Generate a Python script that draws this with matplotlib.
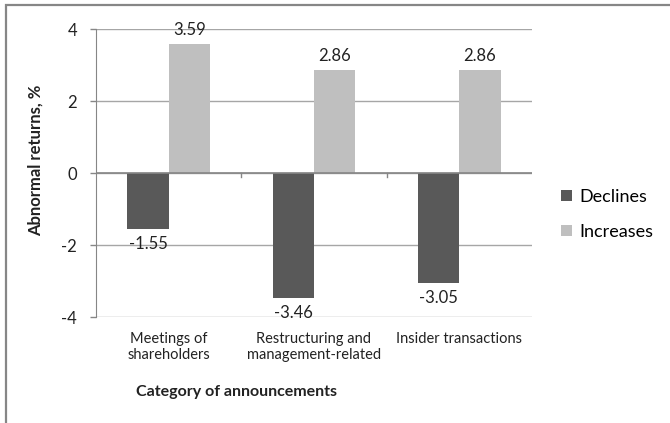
import numpy as np
import matplotlib
matplotlib.use('Agg')
import matplotlib.pyplot as plt
from matplotlib.patches import Rectangle

plt.rcParams['font.family'] = ['Lato', 'DejaVu Sans']

categories = ['Meetings of\nshareholders', 'Restructuring and\nmanagement-related', 'Insider transactions']
declines = [-1.55, -3.46, -3.05]
increases = [3.59, 2.86, 2.86]
series_names = ['Declines', 'Increases']
y_ticks = [-4, -2, 0, 2, 4]

DARK = '#595959'
LIGHT = '#bfbfbf'
AXIS_GRAY = '#868686'
GRID_GRAY = '#a6a6a6'

fig = plt.figure(figsize=(6.7, 4.23), dpi=100)
ax = fig.add_axes([96 / 670, 1 - 317 / 423, 436 / 670, 288 / 423])

# рамка вокруг всей диаграммы (правый и нижний края за пределами картинки)
fig.patches.append(Rectangle((5.5 / 670, -0.1), 1.2, 1 - 5.5 / 423 + 0.1,
                             transform=fig.transFigure, fill=False,
                             edgecolor=AXIS_GRAY, linewidth=1.6))

x = np.arange(len(categories))
w = 0.284
b1 = ax.bar(x - w / 2, declines, w, color=DARK, label=series_names[0], zorder=3)
b2 = ax.bar(x + w / 2, increases, w, color=LIGHT, label=series_names[1], zorder=3)

for bars, vals in ((b1, declines), (b2, increases)):
    for rect, v in zip(bars, vals):
        off = 10 if v >= 0 else -11
        ax.annotate('%.2f' % v, (rect.get_x() + rect.get_width() / 2, v),
                    xytext=(0, off), textcoords='offset points',
                    ha='center', va='center', fontsize=12, color='#222222',
                    zorder=5)

ax.set_xlim(-0.5, len(categories) - 0.5)
ax.set_ylim(-4, 4)
ax.set_yticks(y_ticks)
ax.set_yticklabels([str(t) for t in y_ticks])
ax.tick_params(axis='y', length=4.5, width=1, color=AXIS_GRAY, pad=9,
               labelsize=12, labelcolor='#222222')

ax.set_xticks(x)
ax.set_xticklabels(categories, fontsize=10.5, linespacing=1.15, color='#222222')
ax.tick_params(axis='x', length=0, pad=11)

# короткие деления на нулевой линии между категориями
for xb in x[1:] - 0.5:
    ax.plot([xb, xb], [0, -0.12], color=AXIS_GRAY, lw=1, zorder=4, clip_on=False)

ax.grid(axis='y', color=GRID_GRAY, linewidth=1, zorder=0)
ax.axhline(0, color=AXIS_GRAY, linewidth=1.2, zorder=4)
for side in ('top', 'right', 'bottom'):
    ax.spines[side].set_visible(False)
ax.spines['left'].set_color(AXIS_GRAY)

fig.text(36 / 670, 1 - 160 / 423, 'Abnormal returns, %', rotation=90,
         ha='center', va='center', fontsize=12, fontweight='bold', color='#222222')
fig.text(237 / 670, 1 - 392 / 423, 'Category of announcements',
         ha='center', va='center', fontsize=11.5, fontweight='bold', color='#222222')

fig.legend(handles=[b1, b2], loc='upper left',
           bbox_to_anchor=(561 / 670, 1 - 189 / 423), frameon=False,
           fontsize=13, handlelength=0.6, handleheight=0.6, handletextpad=0.4,
           labelspacing=1.05, borderaxespad=0, borderpad=0)

fig.savefig('out.png', dpi=100)
